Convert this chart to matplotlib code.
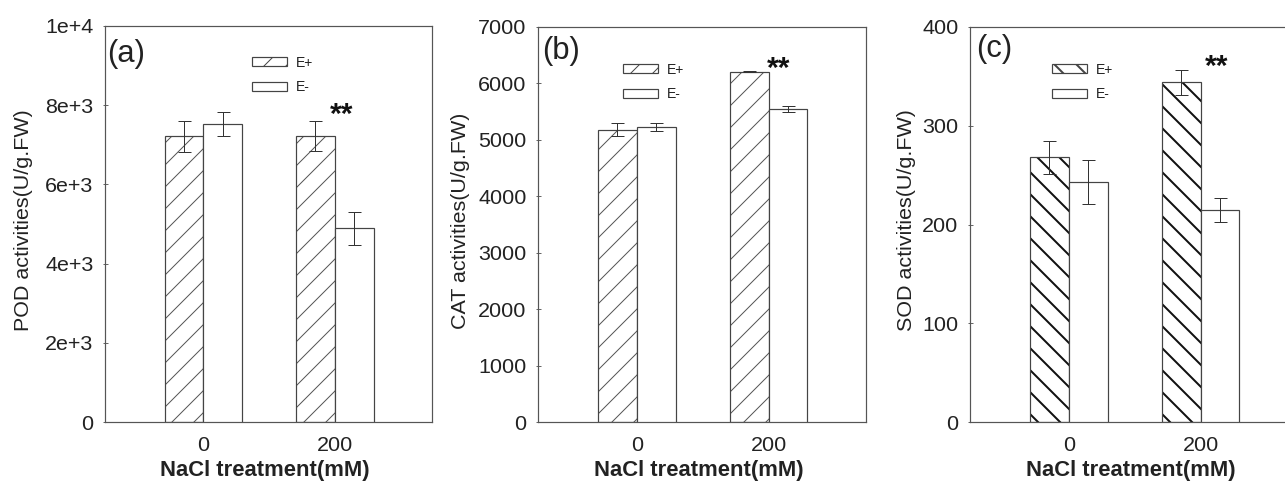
import matplotlib
matplotlib.use("Agg")
import matplotlib.pyplot as plt
import numpy as np

plt.rcParams['font.family'] = ['Liberation Sans', 'DejaVu Sans']

categories = ["0", "200"]
series_names = ["E+", "E-"]

pod_eplus = [7220, 7220]
pod_eplus_err = [390, 380]
pod_eminus = [7520, 4890]
pod_eminus_err = [300, 420]

cat_eplus = [5180, 6210]
cat_eplus_err = [120, 10]
cat_eminus = [5230, 5545]
cat_eminus_err = [70, 50]

sod_eplus = [268, 344]
sod_eplus_err = [16.5, 12.5]
sod_eminus = [243, 215]
sod_eminus_err = [22.5, 12]

ylabels = ["POD activities(U/g.FW)", "CAT activities(U/g.FW)", "SOD activities(U/g.FW)"]
panel_letters = ["(a)", "(b)", "(c)"]
yticks_list = [[0, 2000, 4000, 6000, 8000, 10000],
               [0, 1000, 2000, 3000, 4000, 5000, 6000, 7000],
               [0, 100, 200, 300, 400]]
yticklabels_list = [["0", "2e+3", "4e+3", "6e+3", "8e+3", "1e+4"],
                    ["0", "1000", "2000", "3000", "4000", "5000", "6000", "7000"],
                    ["0", "100", "200", "300", "400"]]
sig_marks = ["**", "**", "**"]

DPI = 132
W, H = 1285, 483


def pt(px):
    return px * 72.0 / DPI


fig = plt.figure(figsize=(W / DPI, H / DPI), dpi=DPI)

# axes rects in pixels (left, right, top, bottom)
rects_px = [(105, 432, 26, 422), (538, 866, 27, 422), (970, 1298, 27, 422)]

data = [
    (pod_eplus, pod_eplus_err, pod_eminus, pod_eminus_err),
    (cat_eplus, cat_eplus_err, cat_eminus, cat_eminus_err),
    (sod_eplus, sod_eplus_err, sod_eminus, sod_eminus_err),
]
hatches = ['//', '//', '\\\\']
hatch_colors = ['#555555', '#555555', '#111111']
hatch_lw = [pt(1.0), pt(1.0), pt(2.0)]
legend_pos = [(0.45, 0.925), (0.258, 0.91), (0.249, 0.91)]
letter_pos = [(0.008, 0.93), (0.013, 0.94), (0.018, 0.945)]
sig_pos = [(2.05, 7750), (2.08, 6250), (2.12, 360)]
ylabel_x = [-0.22, -0.207, -0.165]

edge = '#444444'
x = np.arange(1, len(categories) + 1)
bw = 0.295

for i in range(3):
    l, r, t, b = rects_px[i]
    ax = fig.add_axes([l / W, (H - b) / H, (r - l) / W, (b - t) / H])
    ep, epe, em, eme = data[i]
    plt.rcParams['hatch.linewidth'] = hatch_lw[i]
    b1 = ax.bar(x - bw / 2, ep, bw, facecolor='white', edgecolor=hatch_colors[i],
                hatch=hatches[i], linewidth=0.0, label=series_names[0], zorder=2)
    for p in b1:
        try:
            p.set_hatch_linewidth(hatch_lw[i])
        except AttributeError:
            pass
    # outline on top
    ax.bar(x - bw / 2, ep, bw, facecolor='none', edgecolor=edge, linewidth=pt(1.2), zorder=3)
    b2 = ax.bar(x + bw / 2, em, bw, facecolor='white', edgecolor=edge,
                linewidth=pt(1.2), label=series_names[1], zorder=3)
    ax.errorbar(x - bw / 2, ep, yerr=epe, fmt='none', ecolor='#333333',
                elinewidth=pt(1.0), capsize=pt(6.5), capthick=pt(1.0), zorder=4)
    ax.errorbar(x + bw / 2, em, yerr=eme, fmt='none', ecolor='#333333',
                elinewidth=pt(1.0), capsize=pt(6.5), capthick=pt(1.0), zorder=4)

    ax.set_xlim(0.25, 2.74)
    ax.set_ylim(yticks_list[i][0], yticks_list[i][-1])
    ax.set_xticks(x)
    ax.set_xticklabels(categories, fontsize=pt(21.5), color='#222222')
    ax.set_yticks(yticks_list[i])
    ax.set_yticklabels(yticklabels_list[i], fontsize=pt(21.5), color='#222222')
    ax.tick_params(axis='x', length=0, pad=pt(14))
    ax.tick_params(axis='y', direction='inout', length=pt(5), width=pt(1.0),
                   color='#666666', pad=pt(9))
    for s in ax.spines.values():
        s.set_color('#555555')
        s.set_linewidth(pt(1.2))

    ax.set_ylabel(ylabels[i], fontsize=pt(21.5), color='#222222')
    ax.yaxis.set_label_coords(ylabel_x[i], 0.51)
    ax.set_xlabel("NaCl treatment(mM)", fontsize=pt(22), fontweight='bold', color='#222222')
    ax.xaxis.set_label_coords(0.49, -0.097)

    ax.text(letter_pos[i][0], letter_pos[i][1], panel_letters[i], transform=ax.transAxes,
            fontsize=pt(31), va='center', ha='left', color='#222222')
    ax.text(sig_pos[i][0], sig_pos[i][1], sig_marks[i], fontsize=pt(30), fontweight='bold',
            ha='center', va='center', color='#111111')

    leg = ax.legend(handles=[b1, b2], labels=series_names, loc='upper left',
                    bbox_to_anchor=legend_pos[i], frameon=False, fontsize=pt(14),
                    handlelength=2.5, handleheight=0.6, labelspacing=0.75,
                    borderpad=0, borderaxespad=0, handletextpad=0.65)
    for h in leg.legend_handles:
        h.set_edgecolor(edge)
        h.set_linewidth(pt(1.2))
    for txt in leg.get_texts():
        txt.set_color('#222222')

fig.savefig("out.png", dpi=DPI)
